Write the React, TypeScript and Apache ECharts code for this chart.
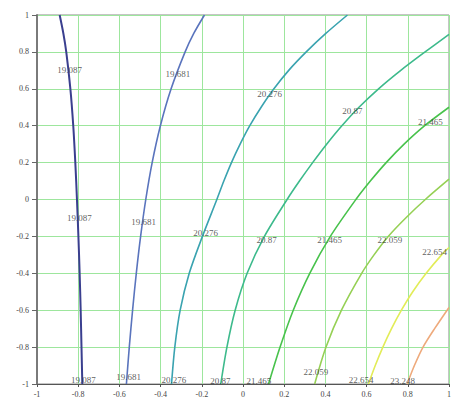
import React, { useEffect, useRef } from "react";
import * as echarts from "echarts";

const levels = [19.087, 19.681, 20.276, 20.87, 21.465, 22.059, 22.654, 23.248];

const contour19087 = [[-0.89, 1], [-0.872, 0.9], [-0.858, 0.8], [-0.838, 0.6], [-0.824, 0.4], [-0.814, 0.2], [-0.806, 0], [-0.799, -0.2], [-0.793, -0.4], [-0.788, -0.6], [-0.784, -0.8], [-0.78, -1]];
const contour19681 = [[-0.187, 1], [-0.239, 0.9], [-0.281, 0.8], [-0.349, 0.6], [-0.401, 0.4], [-0.441, 0.2], [-0.472, 0], [-0.497, -0.2], [-0.518, -0.4], [-0.536, -0.6], [-0.552, -0.8], [-0.566, -1]];
const contour20276 = [[0.507, 1], [0.402, 0.9], [0.307, 0.8], [0.222, 0.7], [0.15, 0.6], [0.088, 0.5], [0.033, 0.4], [-0.014, 0.3], [-0.056, 0.2], [-0.093, 0.1], [-0.127, 0], [-0.197, -0.2], [-0.261, -0.4], [-0.305, -0.6], [-0.331, -0.8], [-0.347, -1]];
const contour20870 = [[1.0, 0.895], [0.884, 0.8], [0.766, 0.7], [0.658, 0.6], [0.563, 0.5], [0.48, 0.4], [0.406, 0.3], [0.338, 0.2], [0.274, 0.1], [0.214, 0], [0.104, -0.2], [0.02, -0.4], [-0.038, -0.6], [-0.078, -0.8], [-0.108, -1]];
const contour21465 = [[1.0, 0.5], [0.882, 0.4], [0.782, 0.3], [0.695, 0.2], [0.618, 0.1], [0.548, 0], [0.424, -0.2], [0.324, -0.4], [0.244, -0.6], [0.18, -0.8], [0.124, -1]];
const contour22059 = [[1.0, 0.11], [0.885, 0], [0.79, -0.1], [0.705, -0.2], [0.636, -0.3], [0.576, -0.4], [0.478, -0.6], [0.403, -0.8], [0.348, -1]];
const contour22654 = [[1.0, -0.26], [0.964, -0.3], [0.889, -0.4], [0.824, -0.5], [0.769, -0.6], [0.721, -0.7], [0.679, -0.8], [0.642, -0.9], [0.609, -1]];
const contour23248 = [[1.0, -0.585], [0.93, -0.7], [0.874, -0.8], [0.832, -0.9], [0.797, -1]];

const contours = [contour19087, contour19681, contour20276, contour20870, contour21465, contour22059, contour22654, contour23248];

const labels19087 = [[-0.842, 0.702], [-0.794, -0.1], [-0.775, -0.978]];
const labels19681 = [[-0.316, 0.68], [-0.483, -0.122], [-0.555, -0.962]];
const labels20276 = [[0.129, 0.572], [-0.182, -0.182], [-0.335, -0.978]];
const labels20870 = [[0.531, 0.48], [0.115, -0.22], [-0.11, -0.984]];
const labels21465 = [[0.909, 0.42], [0.421, -0.22], [0.077, -0.984]];
const labels22059 = [[0.713, -0.22], [0.354, -0.935]];
const labels22654 = [[0.93, -0.285], [0.574, -0.978]];
const labels23248 = [[0.775, -0.984]];

const labelSets = [labels19087, labels19681, labels20276, labels20870, labels21465, labels22059, labels22654, labels23248];

const colors = ["#3a3f8f", "#5a74bd", "#3aa3b0", "#3dba8c", "#48c24c", "#96d055", "#e2ec58", "#eeaa7c"];

function fmt(v: number) {
  return String(parseFloat(v.toFixed(1)));
}

export default function App() {
  const ref = useRef<HTMLDivElement>(null);
  useEffect(() => {
    if (!ref.current) return;
    const chart = echarts.init(ref.current, undefined, { renderer: "svg" });
    const font = "'Liberation Serif', serif";
    const series: any[] = [];
    contours.forEach((pts, i) => {
      series.push({
        type: "line",
        data: pts,
        smooth: 0.3,
        symbol: "none",
        lineStyle: { color: colors[i], width: i === 0 ? 2 : 1.6 },
        z: 3,
      });
    });
    labelSets.forEach((pts, i) => {
      series.push({
        type: "scatter",
        data: pts,
        symbolSize: 0,
        silent: true,
        z: 5,
        label: {
          show: true,
          position: "inside",
          formatter: () => String(levels[i]),
          fontFamily: font,
          fontSize: 9,
          color: "#333",
        },
      });
    });
    chart.setOption({
      animation: false,
      backgroundColor: "#ffffff",
      grid: {
        left: 37,
        top: 15,
        width: 418,
        height: 369,
        show: true,
        borderColor: "#8a8a8a",
        borderWidth: 1,
        backgroundColor: "transparent",
      },
      xAxis: {
        type: "value",
        min: -1,
        max: 1,
        interval: 0.2,
        axisLine: { show: true, onZero: false, lineStyle: { color: "#555", width: 1 } },
        axisTick: { show: true, inside: false, length: 3, lineStyle: { color: "#555" } },
        axisLabel: { formatter: fmt, fontFamily: font, fontSize: 8, color: "#444", margin: 6 },
        splitLine: { show: true, lineStyle: { color: "#9de69d", width: 1 } },
      },
      yAxis: {
        type: "value",
        min: -1,
        max: 1,
        interval: 0.2,
        axisLine: { show: true, onZero: false, lineStyle: { color: "#7a7a7a", width: 2 } },
        axisTick: { show: true, inside: false, length: 5, lineStyle: { color: "#666" } },
        axisLabel: { formatter: fmt, fontFamily: font, fontSize: 8, color: "#444", margin: 8 },
        splitLine: { show: true, lineStyle: { color: "#9de69d", width: 1 } },
      },
      series,
    });
    return () => chart.dispose();
  }, []);
  return (
    <div
      ref={ref}
      style={{ position: "absolute", left: 0, top: 0, width: 454, height: 403, background: "#fff" }}
    />
  );
}
